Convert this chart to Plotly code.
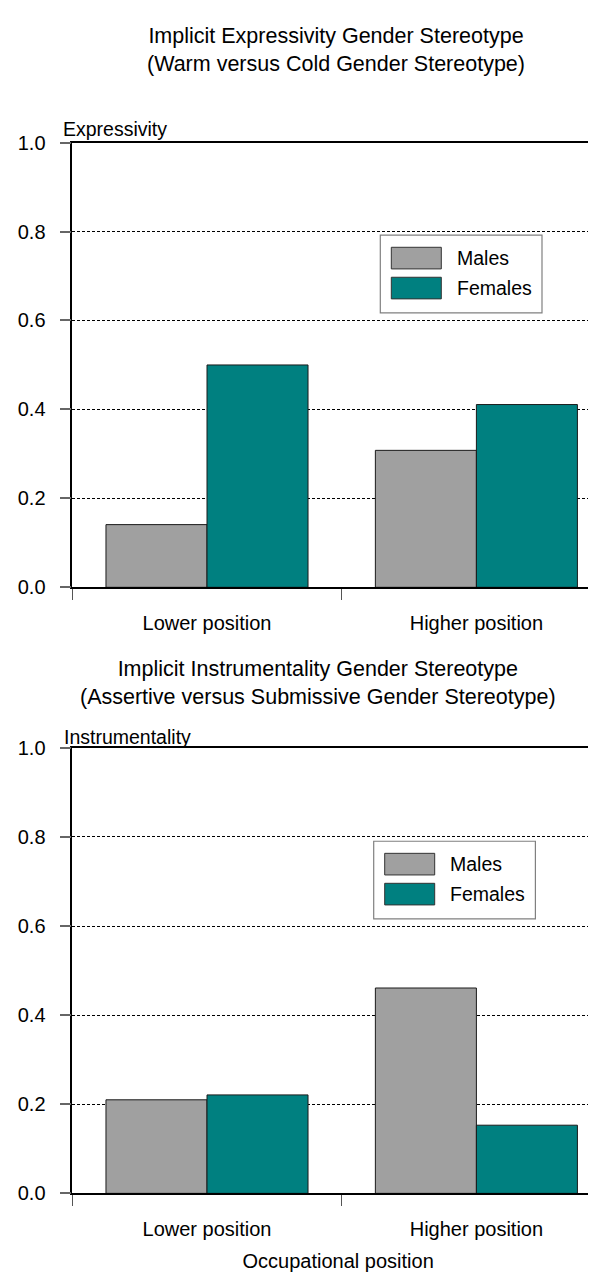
import plotly.graph_objects as go

# ---------------- data ----------------
categories = ["Lower position", "Higher position"]
series_names = ["Males", "Females"]
expressivity_males = [0.141, 0.308]
expressivity_females = [0.500, 0.411]
instrumentality_males = [0.210, 0.461]
instrumentality_females = [0.221, 0.153]
y_tick_values = [0.0, 0.2, 0.4, 0.6, 0.8, 1.0]
y_tick_labels = ["0.0", "0.2", "0.4", "0.6", "0.8", "1.0"]
panel_titles = [
    "Implicit Expressivity Gender Stereotype<br>(Warm versus Cold Gender Stereotype)",
    "Implicit Instrumentality Gender Stereotype<br>(Assertive versus Submissive Gender Stereotype)",
]
panel_ylabels = ["Expressivity", "Instrumentality"]
x_axis_title = "Occupational position"

# ---------------- style ----------------
W, H = 596, 1274
FONT = "Liberation Sans, Arial, sans-serif"
COLORS = {"Males": "#A0A0A0", "Females": "#008080"}
EDGE = "#1a1a1a"


def px(x):
    return x / W


def py(y):
    return 1 - y / H


fig = go.Figure()

panels = [
    ("x", "y", expressivity_males, expressivity_females),
    ("x2", "y2", instrumentality_males, instrumentality_females),
]
for xa, ya, males, females in panels:
    for name, vals in zip(series_names, [males, females]):
        fig.add_trace(go.Bar(
            x=categories, y=vals, name=name,
            marker=dict(color=COLORS[name], line=dict(color=EDGE, width=1)),
            xaxis=xa, yaxis=ya, showlegend=False,
            hovertemplate=name + ": %{y:.2f}<extra>%{x}</extra>",
        ))

# axis geometry (pixels)
x_left, x_right = 64.3, 596.0
cat_px = 269.4
x_range = [-0.5, -0.5 + (x_right - x_left) / cat_px]
panel_y = [(125.8, 578.3), (741.7, 1195.0)]  # (y of 1.0, y of 0.0)

common_x = dict(
    type="category", range=x_range, domain=[px(x_left), 1.0],
    showline=True, linecolor="black", linewidth=1.5, mirror=True,
    ticks="outside", tickson="boundaries", ticklen=11, tickwidth=1,
    tickcolor="#555555", showgrid=False, zeroline=False,
    tickfont=dict(family=FONT, size=20, color="black"),
    ticklabelstandoff=17,
)
common_y = dict(
    range=[0, 1], tickvals=y_tick_values, ticktext=y_tick_labels,
    showline=True, linecolor="black", linewidth=1.5,
    ticks="outside", ticklen=11, tickwidth=1.5, tickcolor="#666666",
    showgrid=True, gridcolor="black", gridwidth=1, griddash="3px,2px",
    zeroline=False,
    tickfont=dict(family=FONT, size=20, color="black"),
    ticklabelstandoff=10,
)

fig.update_layout(
    xaxis=dict(anchor="y", **common_x),
    yaxis=dict(anchor="x", domain=[py(panel_y[0][1]), py(panel_y[0][0])], **common_y),
    xaxis2=dict(anchor="y2", **common_x,
                title=dict(text=x_axis_title, font=dict(family=FONT, size=20, color="black"),
                           standoff=15)),
    yaxis2=dict(anchor="x2", domain=[py(panel_y[1][1]), py(panel_y[1][0])], **common_y),
)

annotations = []
shapes = []

# titles
title_pos = [(328, 32), (310, 676)]
for text, (cx, cy) in zip(panel_titles, title_pos):
    annotations.append(dict(
        text=text, x=px(cx), y=py(cy), xref="paper", yref="paper",
        xanchor="center", yanchor="middle", showarrow=False,
        font=dict(family=FONT, size=21.5, color="black"),
    ))

# y labels on top of axes
ylabel_pos = [(52.5, 112), (53.5, 731)]
for text, (lx, ly) in zip(panel_ylabels, ylabel_pos):
    annotations.append(dict(
        text=text, x=px(lx), y=py(ly), xref="paper", yref="paper",
        xanchor="left", yanchor="middle", showarrow=False,
        font=dict(family=FONT, size=19.5, color="black"),
    ))

# legends (drawn as boxes + swatches + text)
legend_origin = [(372.3, 220.0), (365.7, 836.7)]
for ox, oy in legend_origin:
    shapes.append(dict(type="rect", xref="paper", yref="paper",
                       x0=px(ox), x1=px(ox + 161.7), y0=py(oy), y1=py(oy + 79),
                       line=dict(color="#808080", width=1.2), fillcolor="white",
                       layer="above"))
    for i, name in enumerate(series_names):
        sy0 = oy + 12.3 + i * 30.5
        shapes.append(dict(type="rect", xref="paper", yref="paper",
                           x0=px(ox + 11), x1=px(ox + 61), y0=py(sy0), y1=py(sy0 + 22),
                           line=dict(color="#333333", width=1),
                           fillcolor=COLORS[name], layer="above"))
        annotations.append(dict(
            text=name, x=px(ox + 74.5), y=py(sy0 + 11), xref="paper", yref="paper",
            xanchor="left", yanchor="middle", showarrow=False,
            font=dict(family=FONT, size=19.5, color="black"),
        ))

fig.update_layout(
    width=W, height=H, margin=dict(l=0, r=0, t=0, b=0),
    paper_bgcolor="white", plot_bgcolor="white",
    barmode="group", bargap=0.25, bargroupgap=0,
    font=dict(family=FONT, size=20, color="black"),
    annotations=annotations, shapes=shapes,
)

fig.write_html("out.html")
